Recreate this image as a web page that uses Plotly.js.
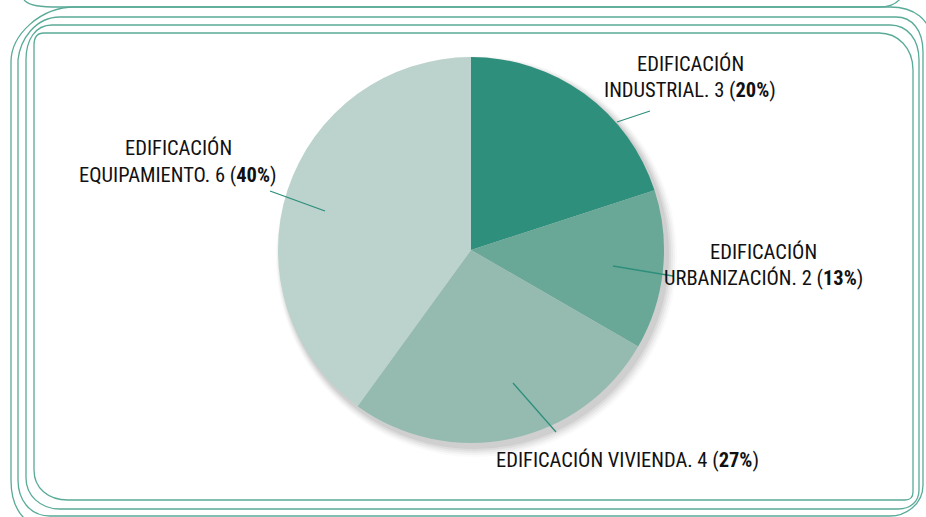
<!DOCTYPE html>
<html>
<head>
<meta charset="utf-8">
<script src="https://cdn.plot.ly/plotly-3.0.1.min.js"></script>
<style>
html,body{margin:0;padding:0;background:#fff;}
#chart{width:926px;height:517px;}
</style>
</head>
<body>
<div id="chart"></div>
<script>
// ---- data ----
const categories = ["EDIFICACIÓN INDUSTRIAL", "EDIFICACIÓN URBANIZACIÓN", "EDIFICACIÓN VIVIENDA", "EDIFICACIÓN EQUIPAMIENTO"];
const labelLine1 = ["EDIFICACIÓN", "EDIFICACIÓN", "", "EDIFICACIÓN"];
const labelLine2 = ["INDUSTRIAL", "URBANIZACIÓN", "EDIFICACIÓN VIVIENDA", "EQUIPAMIENTO"];
const values = [3, 2, 4, 6];
const colors = ["#2e8f7c", "#69a797", "#95bbb0", "#bbd3cc"];

// ---- layout helpers ----
const W = 926, H = 517;
const px = x => x / W;
const py = y => 1 - y / H;
const total = values.reduce((a, b) => a + b, 0);
const pct = values.map(v => Math.round(v / total * 100));

const FONT = "'Liberation Sans Narrow', 'Roboto Condensed', 'DejaVu Sans Condensed', 'Arial Narrow', sans-serif";
const teal = "#2e8f7c";
const frame = "#5aaa98";

// label positions (pixel centres)
const labelPos = [
  {x: 690, y1: 64, y2: 90},
  {x: 763, y1: 252, y2: 278},
  {x: 627, y1: null, y2: 460},
  {x: 178, y1: 148, y2: 175}
];
const leaders = [
  [617, 122, 650, 111],
  [613, 266, 673, 276],
  [513, 383, 556, 432],
  [270, 191, 325, 211]
];

const annotations = [];
values.forEach((v, i) => {
  const p = labelPos[i];
  if (labelLine1[i]) {
    annotations.push({xref: "paper", yref: "paper", x: px(p.x), y: py(p.y1), text: labelLine1[i],
      showarrow: false, xanchor: "center", yanchor: "middle", font: {family: FONT, size: 20.5, color: "#111"}});
  }
  annotations.push({xref: "paper", yref: "paper", x: px(p.x), y: py(p.y2),
    text: labelLine2[i] + ". " + v + " (<b>" + pct[i] + "%</b>)",
    showarrow: false, xanchor: "center", yanchor: "middle", font: {family: FONT, size: 20.5, color: "#111"}});
});

const shapes = [];
// soft shadow behind pie
const cx = 471, cy = 250, R = 193;
[[10, 0.02], [8, 0.03], [6, 0.04], [4, 0.05], [2, 0.06]].forEach(([k, o]) => {
  shapes.push({type: "circle", xref: "paper", yref: "paper", layer: "below",
    x0: px(cx - R + 3 - k / 2), x1: px(cx + R + 3 + k), y0: py(cy + R + 4 + k), y1: py(cy - R + 4 - k / 2),
    fillcolor: "rgba(0,0,0," + o + ")", line: {width: 0}});
});
// leader lines
leaders.forEach(l => {
  shapes.push({type: "line", xref: "paper", yref: "paper", x0: px(l[0]), y0: py(l[1]), x1: px(l[2]), y1: py(l[3]),
    line: {color: teal, width: 1.3}});
});
// decorative frames
function P(x, y) { return px(x) + "," + py(y); }
const framePaths = [
  // previous card bottom edge
  "M" + P(24, 0) + " C" + P(30, 6) + " " + P(40, 7) + " " + P(60, 7) + " L" + P(879, 7) + " C" + P(890, 7) + " " + P(896, 4) + " " + P(900, -1),
  // D outer
  "M" + P(24, 518) + " C" + P(16, 510) + " " + P(11, 498) + " " + P(11, 480) + " L" + P(11, 62) + " C" + P(11, 35) + " " + P(40, 7) + " " + P(75, 7) + " L" + P(890, 7) + " C" + P(915, 7) + " " + P(930, 20) + " " + P(932, 40),
  // C
  "M" + P(18, 60) + " C" + P(20, 40) + " " + P(35, 17) + " " + P(60, 17) + " L" + P(896, 17) + " C" + P(912, 17) + " " + P(923, 30) + " " + P(923, 52) +
    " L" + P(923, 485) + " C" + P(923, 505) + " " + P(905, 516) + " " + P(890, 516) + " L" + P(50, 516) + " C" + P(30, 516) + " " + P(18, 500) + " " + P(18, 480) + " Z",
  // B
  "M" + P(26, 60) + " C" + P(26, 40) + " " + P(35, 25) + " " + P(52, 25) + " L" + P(890, 25) + " C" + P(908, 25) + " " + P(919, 40) + " " + P(919, 60) +
    " L" + P(919, 490) + " C" + P(919, 502) + " " + P(910, 509) + " " + P(898, 509) + " L" + P(60, 509) + " C" + P(40, 509) + " " + P(26, 495) + " " + P(26, 478) + " Z",
  // A inner
  "M" + P(34, 45) + " C" + P(34, 38) + " " + P(37, 33) + " " + P(44, 33) + " L" + P(879, 33) + " C" + P(898, 33) + " " + P(913, 48) + " " + P(913, 70) +
    " L" + P(913, 492) + " C" + P(913, 497) + " " + P(910, 500) + " " + P(905, 500) + " L" + P(68, 500) + " C" + P(48, 500) + " " + P(34, 488) + " " + P(34, 470) + " Z"
];
framePaths.forEach(d => shapes.push({type: "path", xref: "paper", yref: "paper", path: d, layer: "below",
  line: {color: frame, width: 1.3}, fillcolor: "rgba(0,0,0,0)"}));

const trace = {
  type: "pie",
  labels: categories,
  values: values,
  sort: false,
  direction: "clockwise",
  rotation: 0,
  textinfo: "none",
  hoverinfo: "label+value+percent",
  marker: {colors: colors, line: {width: 0}},
  domain: {x: [px(cx - R), px(cx + R)], y: [py(cy + R), py(cy - R)]},
  showlegend: false
};

const layout = {
  width: W, height: H,
  margin: {l: 0, r: 0, t: 0, b: 0},
  paper_bgcolor: "#fff",
  plot_bgcolor: "#fff",
  showlegend: false,
  annotations: annotations,
  shapes: shapes
};

Plotly.newPlot("chart", [trace], layout, {displayModeBar: false, staticPlot: true});
</script>
</body>
</html>
